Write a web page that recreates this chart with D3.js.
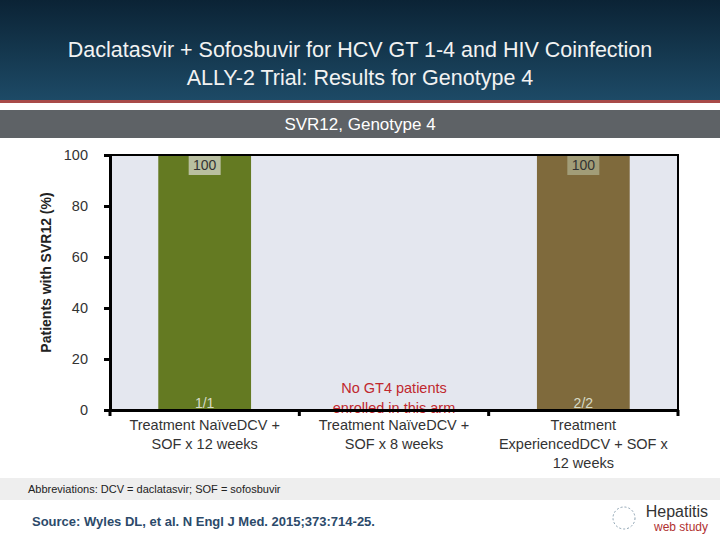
<!DOCTYPE html>
<html><head><meta charset="utf-8">
<script src="https://cdn.jsdelivr.net/npm/d3@7"></script>
<style>body{margin:0}svg{font-family:"Liberation Sans",Arial,sans-serif}</style>
</head><body>
<script>
const arms = ['Treatment NaïveDCV + SOF x 12 weeks', 'Treatment NaïveDCV + SOF x 8 weeks', 'Treatment ExperiencedDCV + SOF x 12 weeks']
const armLines = [['Treatment NaïveDCV +', 'SOF x 12 weeks'], ['Treatment NaïveDCV +', 'SOF x 8 weeks'], ['Treatment', 'ExperiencedDCV + SOF x', '12 weeks']]
const svr = [100, null, 100]
const counts = ['1/1', '', '2/2']
const barColors = ['#647a22', null, '#7f6a3c']
const yTicks = [0, 20, 40, 60, 80, 100]

const svg = d3.select('body').append('svg').attr('width', 720).attr('height', 540)
const defs = svg.append('defs')
const grad = defs.append('linearGradient').attr('id', 'hdr').attr('x1', 0).attr('y1', 0).attr('x2', 0).attr('y2', 1)
grad.append('stop').attr('offset', 0).attr('stop-color', '#0b2335')
grad.append('stop').attr('offset', 1).attr('stop-color', '#1d4a66')
svg.append('rect').attr('width', 720).attr('height', 540).attr('fill', '#fff')
svg.append('rect').attr('width', 720).attr('height', 100).attr('fill', 'url(#hdr)')
svg.append('rect').attr('y', 100).attr('width', 720).attr('height', 3).attr('fill', '#a84a48')
svg.append('text').attr('x', 360).attr('y', 57).attr('text-anchor', 'middle').attr('fill', '#f2f2f2').attr('font-size', 21.5)
  .text('Daclatasvir + Sofosbuvir for HCV GT 1-4 and HIV Coinfection')
svg.append('text').attr('x', 360).attr('y', 85).attr('text-anchor', 'middle').attr('fill', '#f2f2f2').attr('font-size', 21.5)
  .text('ALLY-2 Trial: Results for Genotype 4')
svg.append('rect').attr('y', 110).attr('width', 720).attr('height', 28).attr('fill', '#5e6266')
svg.append('text').attr('x', 360).attr('y', 130).attr('text-anchor', 'middle').attr('fill', '#fff').attr('font-size', 17).text('SVR12, Genotype 4')

const margin = {top: 155, left: 110, right: 42, bottom: 130}
const width = 720 - margin.left - margin.right, height = 540 - margin.top - margin.bottom
const g = svg.append('g').attr('transform', 'translate(' + margin.left + ',' + margin.top + ')')
const x = d3.scaleBand().domain(arms).range([0, width]).paddingInner(0).paddingOuter(0)
const y = d3.scaleLinear().domain([0, 100]).range([height, 0])
g.append('rect').attr('width', width).attr('height', height).attr('fill', '#e4e7ef')

const bw = x.bandwidth() * 0.49
arms.forEach((a, i) => {
  if (svr[i] == null) return
  const cx = x(a) + x.bandwidth() / 2
  g.append('rect').attr('x', cx - bw / 2).attr('y', y(svr[i])).attr('width', bw).attr('height', y(0) - y(svr[i])).attr('fill', barColors[i])
  g.append('rect').attr('x', cx - 16).attr('y', y(svr[i])).attr('width', 32).attr('height', 20).attr('fill', '#b9bfa0').attr('opacity', i == 2 ? 0.6 : 1)
  g.append('text').attr('x', cx).attr('y', y(svr[i]) + 15).attr('text-anchor', 'middle').attr('font-size', 14).attr('fill', '#333').text(svr[i])
  g.append('text').attr('x', cx).attr('y', y(0) - 2).attr('text-anchor', 'middle').attr('font-size', 14).attr('fill', '#d8dcc8').text(counts[i])
})
const mid = x(arms[1]) + x.bandwidth() / 2
g.append('text').attr('x', mid).attr('y', y(0) - 17).attr('text-anchor', 'middle').attr('font-size', 14.5).attr('fill', '#c0282e').text('No GT4  patients')
g.append('text').attr('x', mid).attr('y', y(0) + 3).attr('text-anchor', 'middle').attr('font-size', 14.5).attr('fill', '#c0282e').text('enrolled in this arm')

g.append('rect').attr('width', width).attr('height', height).attr('fill', 'none').attr('stroke', '#000').attr('stroke-width', 2)
const yAxis = g.append('g').call(d3.axisLeft(y).tickValues(yTicks).tickSize(6).tickPadding(16))
yAxis.select('.domain').attr('stroke-width', 3)
yAxis.selectAll('line').attr('stroke-width', 3)
yAxis.selectAll('text').attr('font-size', 14.5).attr('fill', '#333').attr('font-family', '"Liberation Sans",Arial')
const xAxis = g.append('g').attr('transform', 'translate(0,' + height + ')')
  .call(d3.axisBottom(x).tickSize(0).tickFormat(''))
xAxis.select('.domain').attr('stroke-width', 3)
x.domain().concat(['end']).forEach((a, i) => {
  const xx = i < 3 ? x(a) : width
  xAxis.append('line').attr('x1', xx).attr('x2', xx).attr('y1', 0).attr('y2', 6).attr('stroke', '#000').attr('stroke-width', 3)
})
arms.forEach((a, i) => {
  armLines[i].forEach((l, j) => {
    xAxis.append('text').attr('x', x(a) + x.bandwidth() / 2).attr('y', 20 + j * 19).attr('text-anchor', 'middle')
      .attr('font-size', 14.5).attr('fill', '#333').text(l)
  })
})
svg.append('text').attr('transform', 'translate(51,' + (margin.top + height / 2 - 10) + ') rotate(-90)').attr('text-anchor', 'middle')
  .attr('font-size', 14).attr('font-weight', 'bold').attr('fill', '#222').text('Patients with SVR12 (%)')

svg.append('rect').attr('y', 478).attr('width', 720).attr('height', 22).attr('fill', '#eeeeee')
svg.append('text').attr('x', 28).attr('y', 493).attr('font-size', 11).attr('fill', '#222').text('Abbreviations: DCV = daclatasvir; SOF = sofosbuvir')
svg.append('text').attr('x', 32).attr('y', 526).attr('font-size', 13).attr('font-weight', 'bold').attr('fill', '#2c4a6a').text('Source: Wyles DL, et al. N Engl J Med. 2015;373:714-25.')
svg.append('text').attr('x', 708).attr('y', 517).attr('text-anchor', 'end').attr('font-size', 16).attr('fill', '#333').text('Hepatitis')
svg.append('text').attr('x', 708).attr('y', 531).attr('text-anchor', 'end').attr('font-size', 12).attr('fill', '#b03030').text('web study')
svg.append('circle').attr('cx', 624).attr('cy', 518).attr('r', 11).attr('fill', 'none').attr('stroke', '#8aa0b0').attr('stroke-dasharray', '2 2')
</script>
</body></html>
